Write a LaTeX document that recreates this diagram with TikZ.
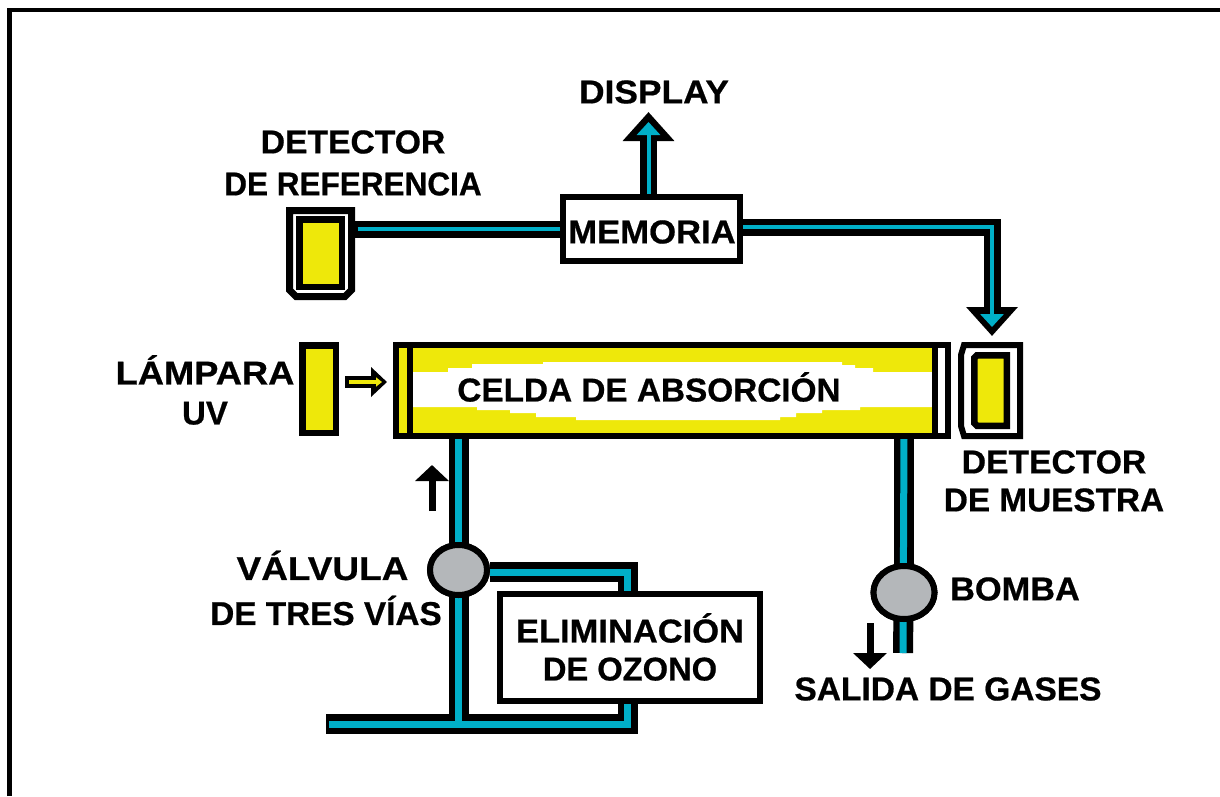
\documentclass[tikz,border=0pt]{standalone}
\usepackage{fontspec}
\usepackage{graphicx}
\setmainfont{Liberation Sans}[BoldFeatures={FakeBold=0.6}]
\usetikzlibrary{arrows.meta,shapes.geometric}
\definecolor{pipecyan}{HTML}{00AFC8}
\definecolor{lampyellow}{HTML}{EEE80A}
\definecolor{valvegray}{HTML}{B4B7BA}
\newcommand{\stretchlabel}[2]{\scalebox{#1}[1]{#2}}
\tikzset{
  x=1pt,y=-1pt,
  lbl/.style={font=\fontsize{33}{40}\selectfont\bfseries,inner sep=0pt,align=center,anchor=center,text=black},
  pipeouter/.style={draw=black,line width=#1,miter limit=10},
  pipeinner/.style={draw=pipecyan,line width=#1,miter limit=10},
  whitebox/.style={draw=black,fill=white,line width=6pt,inner sep=0pt},
  yellowbox/.style={draw=black,fill=lampyellow,line width=6.5pt,inner sep=0pt},
  valve/.style={draw=black,fill=valvegray,line width=6pt,ellipse,inner sep=0pt},
  bighead/.style={-{Triangle[length=29pt,width=50pt]}},
  cyanhead/.style={-{Triangle[length=13pt,width=23pt]}},
  blackhead/.style={-{Triangle[length=16pt,width=33pt]}},
}
\begin{document}
\begin{tikzpicture}
\useasboundingbox (0,0) rectangle (1220,796);
\fill[white] (0,0) rectangle (1220,796);
% page frame (open at the right and at the bottom of the crop)
\draw[line width=4.5pt,line cap=butt] (9.5,796) -- (9.5,10) -- (1220,10);

% named anchors
\node[inner sep=0pt,minimum width=177pt,minimum height=64pt] (memoria) at (651.5,229) {};
\node[minimum width=64pt,minimum height=91pt,inner sep=0pt] (detref) at (320.5,253.5) {};
\node[minimum width=62pt,minimum height=91pt,inner sep=0pt] (detmue) at (990.5,390.5) {};
\node[minimum width=552pt,minimum height=91pt,inner sep=0pt] (celda) at (672,390.5) {};
\node[minimum width=260pt,minimum height=107pt,inner sep=0pt] (elim) at (630,647.5) {};
\node[valve,minimum width=57pt,minimum height=50pt] (valvula) at (458.5,570) {};
\node[valve,minimum width=61pt,minimum height=53pt] (bomba) at (904,592.5) {};
\coordinate (displaytip) at (648.5,112);
\coordinate (displaycyan) at (648.5,122);
\coordinate (muetip) at (992,336);
\coordinate (muecyan) at (992,327);
\coordinate (salida) at (903,653);
\coordinate (entrada) at (326,724);
\coordinate (entradacyan) at (329,724);
\coordinate (codoA) at (627.5,572);
\coordinate (codoB) at (627.5,724);
\coordinate (codoC) at (992,227);
\coordinate (juntaA) at (458.5,724);

% pipes: black casing
\draw[pipeouter=17pt,bighead] (memoria.north -| displaytip) -- (displaytip);
\draw[pipeouter=17pt] (detref.east |- memoria) -- (memoria.west);
\draw[pipeouter=17pt,bighead] (memoria.east |- codoC) -- (codoC) -- (muetip);
\draw[pipeouter=20pt] (celda.south -| valvula) -- (juntaA);
\draw[pipeouter=20pt] (valvula.east |- codoA) -- (codoA) -- (elim.north -| codoA);
\draw[pipeouter=20pt] (entrada) -- (codoB) -- (elim.south -| codoB);
\draw[pipeouter=20pt] (bomba.north) -- (salida);
\draw[pipeouter=20pt] (celda.south -| bomba) -- (bomba.north);
% pipes: cyan core
\draw[pipeinner=4pt,cyanhead] (memoria.north -| displaycyan) -- (displaycyan);
\draw[pipeinner=4pt] ([xshift=5pt]detref.east |- memoria) -- (memoria.west);
\draw[pipeinner=4pt,cyanhead] (memoria.east |- codoC) -- (codoC) -- (muecyan);
\draw[pipeinner=7pt] (celda.south -| valvula) -- (juntaA);
\draw[pipeinner=7pt] (valvula.east |- codoA) -- (codoA) -- (elim.north -| codoA);
\draw[pipeinner=7pt] (entradacyan) -- (codoB) -- (elim.south -| codoB);
\draw[pipeinner=7pt] (celda.south -| bomba) -- (salida);

% reference detector
\draw[line width=7pt,fill=white] (289.5,210.5) -- (351.5,210.5) -- (351.5,290) -- (345,296.5) -- (296,296.5) -- (289.5,290) -- cycle;
\node[yellowbox,minimum width=42.5pt,minimum height=67.5pt] (detrefcell) at (320.75,253) {};
% sample detector
\draw[line width=6pt,fill=white] (1020,345) -- (964,345) -- (961,355) -- (961,426) -- (964,436) -- (1020,436) -- cycle;
\draw[line width=6.5pt,fill=lampyellow] (1006.75,355.25) -- (977,355.25) -- (974.25,358) -- (974.25,423) -- (977,425.75) -- (1006.75,425.75) -- cycle;
% lamp
\node[yellowbox,minimum width=33.5pt,minimum height=87.5pt] (lampara) at (319,389) {};
% lamp beam
\coordinate (beamtail) at (345,382);
\coordinate (beamtip) at (387,382);
\coordinate (beamin) at (349,382);
\coordinate (beamintip) at (382,382);
\draw[line width=12pt,-{Triangle[length=16pt,width=29pt]}] (beamtail) -- (beamtip);
\draw[draw=lampyellow,line width=4pt,-{Triangle[length=6pt,width=9pt]},fill=lampyellow] (beamin) -- (beamintip);
% absorption cell
\draw[line width=6pt,fill=white] (396,345) rectangle (948,436);
\fill[lampyellow] (399,348) rectangle (407,433);
\fill[lampyellow] (413,348) rectangle (932,433);
\fill[white] (413,372) -- (448,372) -- (448,368) -- (472,368) -- (472,364) -- (543,364) -- (543,362)
  -- (842,362) -- (842,365) -- (855,365) -- (855,368) -- (873,368) -- (873,372) -- (932,372)
  -- (932,407) -- (860,407) -- (860,410) -- (822,410) -- (822,413) -- (796,413) -- (796,417) -- (780,417) -- (780,420)
  -- (576,420) -- (576,417) -- (536,417) -- (536,413) -- (510,413) -- (510,410) -- (477,410) -- (477,407) -- (413,407) -- cycle;
\draw[line width=6pt] (410,345) -- (410,436);
\draw[line width=6pt] (935,345) -- (935,436);
% boxes
\node[whitebox,minimum width=177pt,minimum height=64pt] at (memoria) {};
\node[whitebox,minimum width=260pt,minimum height=107pt] at (elim) {};
% valves over pipes
\node[valve,minimum width=57pt,minimum height=50pt] at (valvula) {};
\node[valve,minimum width=61pt,minimum height=53pt] at (bomba) {};
% flow arrows
\coordinate (flowup) at (432,465);
\coordinate (flowupend) at (432,511);
\coordinate (flowdown) at (870,669);
\coordinate (flowdownend) at (870,623);
\draw[line width=7pt,blackhead] (flowupend) -- (flowup);
\draw[line width=7pt,blackhead] (flowdownend) -- (flowdown);

% labels
\node[lbl] (tdisplay) at (654,92) {\stretchlabel{1.07}{DISPLAY}};
\node[lbl] (tdetref) at (353,163) {\stretchlabel{1.02}{DETECTOR}\\[2pt]\stretchlabel{.955}{DE REFERENCIA}};
\node[lbl] (tmemoria) at (652,232) {\stretchlabel{1.05}{MEMORIA}};
\node[lbl] (tlampara) at (205,390) {\stretchlabel{1.10}{LÁMPARA}\\UV};
\node[lbl] (tcelda) at (649,387) {\stretchlabel{1.01}{CELDA DE ABSORCIÓN}};
\node[lbl] (tdetmue) at (1054,481) {\stretchlabel{1.02}{DETECTOR}\\[-2pt]\stretchlabel{1.01}{DE MUESTRA}};
\node[lbl] (tvalvula) at (326,588) {\stretchlabel{1.12}{VÁLVULA}\hspace*{7pt}\\[5pt]\stretchlabel{1.01}{DE TRES VÍAS}};
\node[lbl] (telim) at (630,647) {\stretchlabel{1.045}{ELIMINACIÓN}\\[-2pt]\stretchlabel{.99}{DE OZONO}};
\node[lbl] (tbomba) at (1015,589) {\stretchlabel{1.04}{BOMBA}};
\node[lbl] (tsalida) at (948,689) {\stretchlabel{1.015}{SALIDA DE GASES}};
\end{tikzpicture}
\end{document}
